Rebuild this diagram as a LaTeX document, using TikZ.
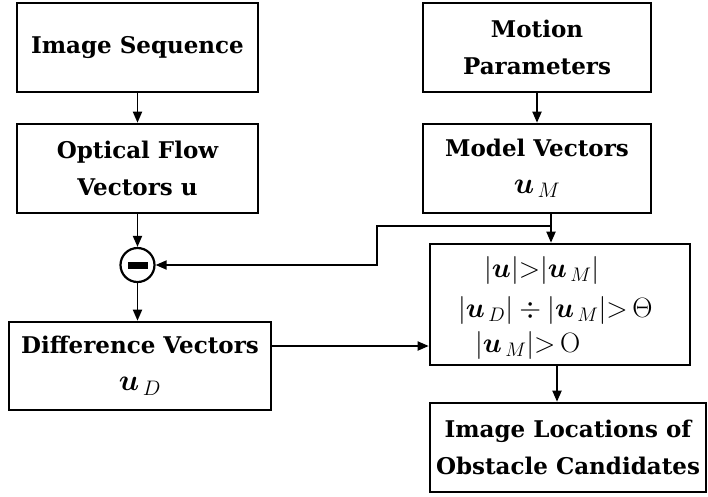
\RequirePackage{fix-cm}
\documentclass[tikz,border=0pt]{standalone}
\usepackage{amsmath,bm}
\usepackage{fontspec}
\newfontfamily\boxfont{DejaVu Serif}
\usetikzlibrary{arrows.meta}

\begin{document}
\begin{tikzpicture}[x=1pt,y=-1pt,
        box/.style = {draw,line width=2.6pt,align=center,inner sep=0pt,
            font=\boxfont\fontsize{23}{37}\selectfont\bfseries},
        condText/.style = {anchor=west,inner sep=0pt,font=\fontsize{28}{28}\selectfont},
        minusNode/.style = {draw,circle,line width=2.2pt,minimum size=34pt,inner sep=0pt},
        arrow/.style = {line width=1.8pt,-{Triangle[length=11pt,width=9pt]}},
        line/.style = {line width=1.8pt}
        ]
        \useasboundingbox (0,0) rectangle (708,496);
        % left column
        \node[box,minimum width=241pt,minimum height=89pt] (seq) at (137.5,47.5) {Image Sequence};
        \node[box,minimum width=241pt,minimum height=89pt] (flow) at (137.5,168.5) {Optical Flow\\Vectors u};
        \node[minusNode] (minus) at (137.5,265) {\rule{20pt}{7pt}};
        \node[box,minimum width=262pt,minimum height=88pt] (diff) at (140,366) {Difference Vectors\\{\fontsize{30}{30}\selectfont$\bm{u}_{\,D}$}};
        % right column
        \node[box,minimum width=228pt,minimum height=89pt] (motion) at (537,47.5) {Motion\\Parameters};
        \node[box,minimum width=228pt,minimum height=89pt] (model) at (537,168.5) {Model Vectors\\{\fontsize{30}{30}\selectfont$\bm{u}_{\,M}$}};
        \node[box,minimum width=260pt,minimum height=121pt] (cond) at (560,304.5) {};
        \node[condText] (c1) at (484,270) {$|\bm{u}|{>}|\bm{u}_{\,M}|$};
        \node[condText] (c2) at (458,310) {$|\bm{u}_{\,D}|\div|\bm{u}_{\,M}|{>}\,\Theta$};
        \node[condText] (c3) at (475,345) {$|\bm{u}_{\,M}|{>}\,\mathrm{O}$};
        \node[box,minimum width=276pt,minimum height=89pt] (loc) at (568,447.5) {Image Locations of\\Obstacle Candidates};
        % connectors
        \coordinate (split) at (551,226);
        \coordinate (turn) at (377,226);
        \draw[arrow] (seq) -- (flow);
        \draw[arrow] (motion) -- (model);
        \draw[arrow] (flow) -- (minus);
        \draw[arrow] (minus) -- (minus |- diff.north);
        \draw[line] (model.south -| split) -- (split);
        \draw[arrow] (split) -- (split |- cond.north);
        \draw[arrow] (split) -- (turn) |- (minus);
        \draw[arrow] ([yshift=20pt]diff.east) -- ([yshift=20pt]diff.east -| cond.west);
        \draw[arrow] ([xshift=-3pt]cond.south) -- ([xshift=-3pt]cond.south |- loc.north);
\end{tikzpicture}
\end{document}
